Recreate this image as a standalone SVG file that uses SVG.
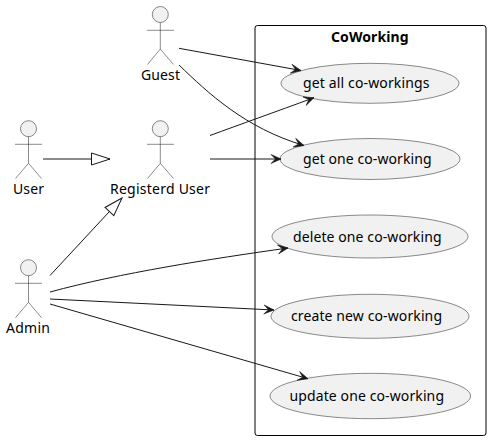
<svg xmlns="http://www.w3.org/2000/svg" width="491" height="440" viewBox="0 0 491 440">
<style>
text{font-family:"Noto Sans",sans-serif;font-size:14px;fill:#000;text-anchor:start}
.title{font-weight:bold}
.case{fill:#F1F1F1;stroke:#181818;stroke-width:.5}
.head{fill:#F1F1F1;stroke:#181818;stroke-width:.5}
.fig{fill:none;stroke:#181818;stroke-width:.5}
.c{fill:none;stroke:#181818;stroke-width:1}
.a{marker-end:url(#open)}
.g{marker-end:url(#tri)}
</style>
<defs>
<marker id="open" markerUnits="userSpaceOnUse" viewBox="-11 -6 12 12" refX="0" refY="0" markerWidth="12" markerHeight="12" orient="auto"><path d="M0,0 L-10,-4.5 L-5.5,0 L-10,4.5 Z" fill="#181818" stroke="#181818" stroke-width=".6"/></marker>
<marker id="tri" markerUnits="userSpaceOnUse" viewBox="-20 -8 21 16" refX="0" refY="0" markerWidth="21" markerHeight="16" orient="auto"><path d="M0,0 L-18.5,-6 L-18.5,6 Z" fill="#fff" stroke="#181818" stroke-width="1"/></marker>
</defs>
<rect width="491" height="440" fill="#fff"/>
<g id="CoWorking">
<rect x="255" y="25.5" width="231" height="410" rx="2.5" fill="#fff" stroke="#000" stroke-width="1"/>
<text class="title" x="331" y="42" textLength="77.5">CoWorking</text>
</g>
<g id="get-all"><ellipse class="case" cx="370" cy="83.3" rx="89" ry="20"/><text x="303" y="88" textLength="126.5">get all co-workings</text></g>
<g id="get-one"><ellipse class="case" cx="370" cy="159" rx="90" ry="20.5"/><text x="303" y="164" textLength="128.5">get one co-working</text></g>
<g id="delete-one"><ellipse class="case" cx="370" cy="236.5" rx="98" ry="21.5"/><text x="293" y="242" textLength="148.5">delete one co-working</text></g>
<g id="create-new"><ellipse class="case" cx="370" cy="316.3" rx="99" ry="22"/><text x="291" y="321" textLength="151">create new co-working</text></g>
<g id="update-one"><ellipse class="case" cx="370.3" cy="396" rx="100.3" ry="22.7"/><text x="289.5" y="401" textLength="154.5">update one co-working</text></g>
<g id="Guest"><circle class="head" cx="160.3" cy="14.5" r="8"/><path class="fig" d="M160.3,22.5V49M147,30.3H174M160.3,49L147.5,64.5M160.3,49L173.5,64.5"/><text x="141" y="80" textLength="39">Guest</text></g>
<g id="User"><circle class="head" cx="28.5" cy="128.7" r="8"/><path class="fig" d="M28.5,136.7V163.3M15,144.3H42M28.5,163.3L15.5,178.5M28.5,163.3L41.5,178.5"/><text x="13" y="194" textLength="31">User</text></g>
<g id="RegisterdUser"><circle class="head" cx="160.3" cy="128.7" r="8"/><path class="fig" d="M160.3,136.7V163.3M147,144.3H174M160.3,163.3L147.5,178.5M160.3,163.3L173.5,178.5"/><text x="110" y="194" textLength="100">Registerd User</text></g>
<g id="Admin"><circle class="head" cx="28.5" cy="267.7" r="8"/><path class="fig" d="M28.5,275.7V302.3M15,283.3H42M28.5,302.3L15.5,317.7M28.5,302.3L41.5,317.7"/><text x="6" y="333" textLength="44">Admin</text></g>
<g id="connectors">
<path class="c a" d="M179,48.3L301,70.5"/>
<path class="c a" d="M179,65C208,93 245,128 304,145.5"/>
<path class="c a" d="M210,135.5C240,124.5 275,112 314,97.7"/>
<path class="c a" d="M210,159H281"/>
<path class="c a" d="M50,292C120,273 210,259 288,248"/>
<path class="c a" d="M50,299L274,310"/>
<path class="c a" d="M50,304L308,378.7"/>
<path class="c g" d="M43,159H110"/>
<path class="c g" d="M50,275.5L122,198"/>
</g>
</svg>
